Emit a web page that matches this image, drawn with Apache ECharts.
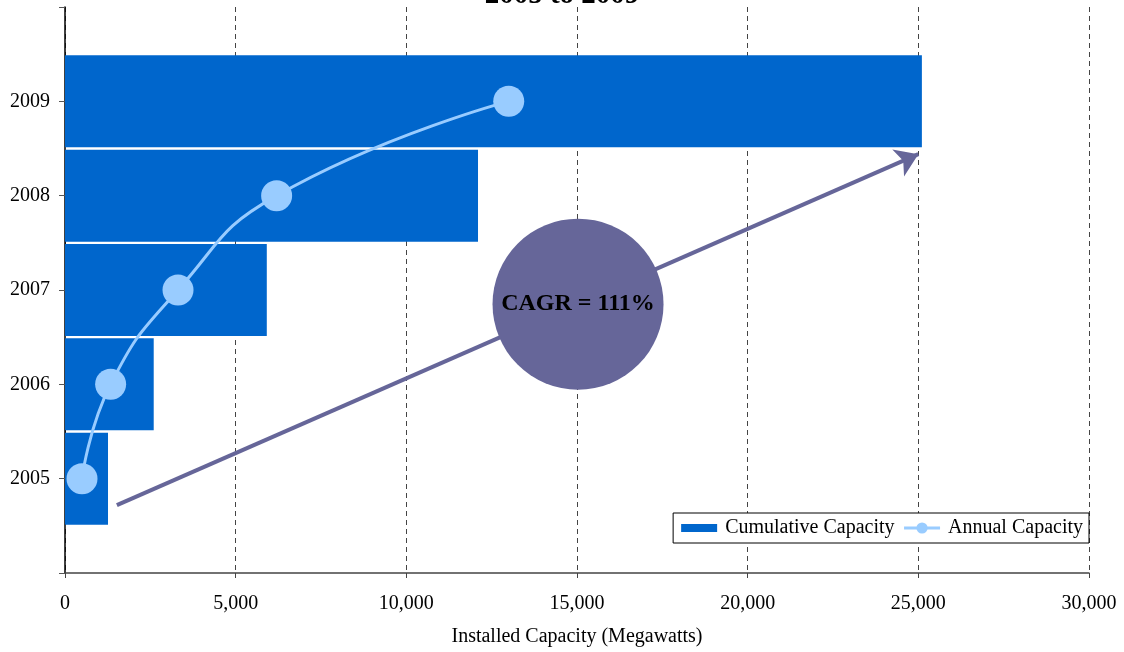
<!DOCTYPE html>
<html>
<head>
<meta charset="utf-8">
<script src="https://cdn.jsdelivr.net/npm/echarts@6/dist/echarts.min.js"></script>
<style>
  html, body { margin: 0; padding: 0; background: #ffffff; }
  #chart { width: 1124px; height: 652px; }
</style>
</head>
<body>
<div id="chart"></div>
<script>
// Installed capacity by year, megawatts
const years = ['2005', '2006', '2007', '2008', '2009'];
const cumulativeCapacity = [1260, 2599, 5912, 12100, 25104];
const annualCapacity = [498, 1337, 3311, 6200, 13000];

// Horizontal axis range (megawatts)
const xMin = 0;
const xMax = 30000;
const xStep = 5000;

// Growth annotation: arrow and bubble, in (megawatts, year) units
const cagrText = 'CAGR = 111%';
const cagrArrow = [[1520, 2004.72], [25000, 2008.44]];
const cagrBubble = [15030, 2006.85];

const titleText = '2005 to 2009';
const xAxisName = 'Installed Capacity (Megawatts)';

// The year axis carries an empty slot below 2005 and above 2009
const yearSlots = [''].concat(years, ['']);
const pad = arr => [null].concat(arr, [null]);

const serif = '"Liberation Serif", "Times New Roman", serif';
const chart = echarts.init(document.getElementById('chart'), null, { renderer: 'canvas' });

chart.setOption({
  animation: false,
  backgroundColor: '#ffffff',
  title: {
    text: titleText,
    left: 'center',
    top: -24,
    textStyle: { fontFamily: serif, fontSize: 29, fontWeight: 'bold', color: '#000000' }
  },
  grid: { left: 65, right: 35, top: 7, bottom: 79, containLabel: false },
  legend: {
    right: 35,
    top: 513,
    orient: 'horizontal',
    backgroundColor: '#ffffff',
    borderColor: '#000000',
    borderWidth: 1,
    borderRadius: 0,
    padding: [5, 6, 5, 8],
    itemGap: 8,
    itemWidth: 36,
    itemHeight: 14,
    textStyle: { fontFamily: serif, fontSize: 20, color: '#000000', padding: [0, 0, 0, 3] },
    data: [
      { name: 'Cumulative Capacity', icon: 'path://M0,0H36V8H0Z' },
      { name: 'Annual Capacity', lineStyle: { width: 3 } }
    ]
  },
  xAxis: {
    type: 'value',
    min: xMin,
    max: xMax,
    interval: xStep,
    name: xAxisName,
    nameLocation: 'middle',
    nameGap: 54,
    nameTextStyle: { fontFamily: serif, fontSize: 20, color: '#000000' },
    axisLine: { show: true, lineStyle: { color: '#444444', width: 1.5 } },
    axisTick: { show: true, length: 5, lineStyle: { color: '#444444' } },
    axisLabel: {
      fontFamily: serif, fontSize: 20, color: '#000000', margin: 21,
      formatter: v => v.toLocaleString('en-US')
    },
    splitLine: { show: true, lineStyle: { color: '#444444', width: 1, type: [5, 4] } }
  },
  yAxis: [
    {
      type: 'category',
      data: yearSlots,
      boundaryGap: false,
      axisLine: { show: true, lineStyle: { color: '#000000', width: 1.5 } },
      axisTick: { show: true, length: 6, alignWithLabel: true, lineStyle: { color: '#555555' } },
      axisLabel: { fontFamily: serif, fontSize: 20, color: '#000000', margin: 15, interval: 0 },
      splitLine: { show: false }
    },
    {
      // hidden linear year scale used to place the annotation
      type: 'value',
      min: 2004,
      max: 2010,
      show: false,
      splitLine: { show: false }
    }
  ],
  series: [
    {
      name: 'Cumulative Capacity',
      type: 'bar',
      yAxisIndex: 0,
      data: pad(cumulativeCapacity),
      barWidth: 92,
      itemStyle: { color: '#0066CC' },
      z: 2
    },
    {
      name: 'CAGR arrow',
      type: 'lines',
      coordinateSystem: 'cartesian2d',
      xAxisIndex: 0,
      yAxisIndex: 1,
      symbol: ['none', 'arrow'],
      symbolSize: 22,
      lineStyle: { color: '#666699', width: 4, opacity: 1, curveness: 0 },
      data: [{ coords: cagrArrow }],
      silent: true,
      z: 4
    },
    {
      name: 'CAGR',
      type: 'scatter',
      xAxisIndex: 0,
      yAxisIndex: 1,
      data: [cagrBubble],
      symbol: 'circle',
      symbolSize: 171,
      itemStyle: { color: '#666699', opacity: 1 },
      label: {
        show: true,
        position: 'inside',
        formatter: cagrText,
        fontFamily: serif,
        fontSize: 24,
        fontWeight: 'bold',
        color: '#000000'
      },
      silent: true,
      z: 5
    },
    {
      name: 'Annual Capacity',
      type: 'line',
      yAxisIndex: 0,
      data: pad(annualCapacity),
      smooth: 0.5,
      connectNulls: false,
      symbol: 'circle',
      symbolSize: 31,
      showAllSymbol: true,
      lineStyle: { color: '#99CCFF', width: 3 },
      itemStyle: { color: '#99CCFF', borderWidth: 0 },
      z: 6
    }
  ]
});
</script>
</body>
</html>
